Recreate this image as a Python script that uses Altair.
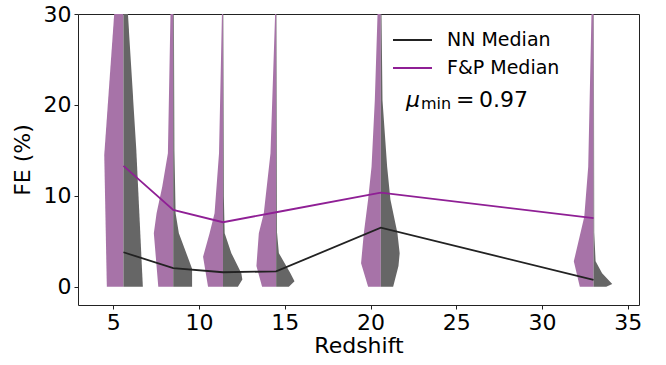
import altair as alt
import pandas as pd

# ---- data ----
redshifts = [5.6, 8.5, 11.4, 14.5, 20.6, 33.0]
nn_median = [3.8, 2.05, 1.6, 1.7, 6.5, 0.77]
fp_median = [13.3, 8.45, 7.1, 8.2, 10.36, 7.55]

# violin half profiles: (FE levels, half-widths in redshift units)
fp_fe = [
    [0, 14.5, 30],
    [0, 5.9, 8.1, 11.0, 14.7, 30],
    [0, 3.3, 5.9, 8.1, 14.7, 30],
    [0, 2.3, 5.9, 8.1, 14.7, 30],
    [0, 2.6, 5.9, 9.6, 13.2, 20.5, 30],
    [0, 2.8, 7.7, 13.2, 30],
]
fp_w = [
    [0.97, 1.12, 0.54],
    [0.87, 1.13, 0.97, 0.64, 0.31, 0.16],
    [0.87, 1.16, 0.78, 0.49, 0.23, 0.06],
    [0.82, 1.15, 1.01, 0.72, 0.33, 0.06],
    [0.74, 1.15, 0.99, 0.74, 0.54, 0.35, 0.19],
    [0.80, 1.15, 0.54, 0.31, 0.12],
]
nn_fe = [
    [0, 15, 30],
    [0, 2.0, 3.0, 5.9, 8.1, 15, 30],
    [0, 0.8, 1.5, 3.7, 5.9, 10, 30],
    [0, 0.6, 1.5, 3.7, 6.0, 30],
    [0, 2.3, 3.7, 5.9, 9.6, 13.2, 20.5, 30],
    [0, 0.3, 1.5, 2.8, 6.0, 30],
]
nn_w = [
    [1.13, 0.75, 0.26],
    [1.10, 1.10, 0.90, 0.33, 0.14, 0.07, 0.04],
    [0.87, 1.13, 1.07, 0.49, 0.10, 0.05, 0.02],
    [0.74, 1.07, 0.83, 0.16, 0.05, 0.02],
    [0.72, 1.03, 1.10, 0.97, 0.56, 0.37, 0.10, 0.04],
    [0.74, 1.09, 0.50, 0.12, 0.04, 0.02],
]

legend_labels = ["NN Median", "F&P Median"]
mu_parts_text = ["μ", "min", "=", "0.97"]

# ---- build tables ----
rows = []
for i, z in enumerate(redshifts):
    for fe, w in zip(fp_fe[i], fp_w[i]):
        rows.append({"vid": f"fp{i}", "side": "F&P", "fe": fe, "x": z - w, "xc": z})
    for fe, w in zip(nn_fe[i], nn_w[i]):
        rows.append({"vid": f"nn{i}", "side": "NN", "fe": fe, "x": z + w, "xc": z})
vdf = pd.DataFrame(rows)

med = pd.DataFrame({"z": redshifts * 2,
                    "fe": nn_median + fp_median,
                    "series": [legend_labels[0]] * len(redshifts) + [legend_labels[1]] * len(redshifts)})

xscale = alt.Scale(domain=[2.95, 35.65], nice=False, zero=False)
yscale = alt.Scale(domain=[-2, 30], nice=False, zero=False)

PURPLE_FILL = "#a773a8"
GRAY_FILL = "#666666"
PURPLE_LINE = "#8f1f95"
BLACK_LINE = "#222222"

violins = alt.Chart(vdf).mark_area(orient="horizontal", strokeWidth=0).encode(
    y=alt.Y("fe:Q", scale=yscale,
            axis=alt.Axis(values=[0, 10, 20, 30], title="FE (%)", titlePadding=9)),
    x=alt.X("x:Q", scale=xscale,
            axis=alt.Axis(values=[5, 10, 15, 20, 25, 30, 35], title="Redshift", titlePadding=2)),
    x2="xc:Q",
    detail="vid:N",
    color=alt.Color("side:N", scale=alt.Scale(domain=["F&P", "NN"], range=[PURPLE_FILL, GRAY_FILL]),
                    legend=None),
)

lines = alt.Chart(med).mark_line(strokeWidth=1.8).encode(
    x=alt.X("z:Q", scale=xscale),
    y=alt.Y("fe:Q", scale=yscale),
    detail="series:N",
    stroke=alt.Stroke("series:N", scale=alt.Scale(domain=legend_labels, range=[BLACK_LINE, PURPLE_LINE]),
                      legend=None),
)

leg_df = pd.DataFrame({"label": legend_labels, "ypx": [40 - 14, 68 - 14], "col": [BLACK_LINE, PURPLE_LINE]})
leg_lines = alt.Chart(leg_df).mark_rule(strokeWidth=1.8).encode(
    x=alt.value(393 - 78), x2=alt.value(432 - 78),
    y=alt.Y("ypx:Q", scale=None),
    color=alt.Color("col:N", scale=None),
)
leg_text = alt.Chart(leg_df).mark_text(align="left", baseline="middle", font="DejaVu Sans",
                                       fontSize=19, color="black").encode(
    x=alt.value(447 - 78),
    y=alt.Y("ypx:Q", scale=None),
    text="label:N",
)

mu_x = [406, 421, 456, 479]
mu_y = [107, 109, 107, 107]
mu_size = [22, 16, 22, 22]
mu_style = ["italic", "normal", "normal", "normal"]
mu_layers = []
for t, xp, yp, s, st in zip(mu_parts_text, mu_x, mu_y, mu_size, mu_style):
    mu_layers.append(
        alt.Chart(pd.DataFrame({"t": [t]})).mark_text(align="left", baseline="alphabetic", font="DejaVu Sans",
                                                      fontSize=s, fontStyle=st, color="black").encode(
            x=alt.value(xp - 78), y=alt.value(yp - 14), text="t:N")
    )

chart = alt.layer(violins, lines, leg_lines, leg_text, *mu_layers).properties(
    width=561, height=291,
    autosize=alt.AutoSizeParams(type="none"),
    padding={"left": 78, "top": 14, "right": 27, "bottom": 60},
    background="white",
).configure_view(
    stroke="#222222", strokeWidth=1
).configure_axis(
    labelFont="DejaVu Sans", titleFont="DejaVu Sans",
    labelFontSize=22, titleFontSize=22, labelColor="black", titleColor="black",
    titleFontWeight="normal",
    domain=False, grid=False, ticks=True, tickColor="#222222", tickSize=4, labelPadding=3,
)

chart.save("out.html", embed_options={"renderer": "svg", "actions": False})
